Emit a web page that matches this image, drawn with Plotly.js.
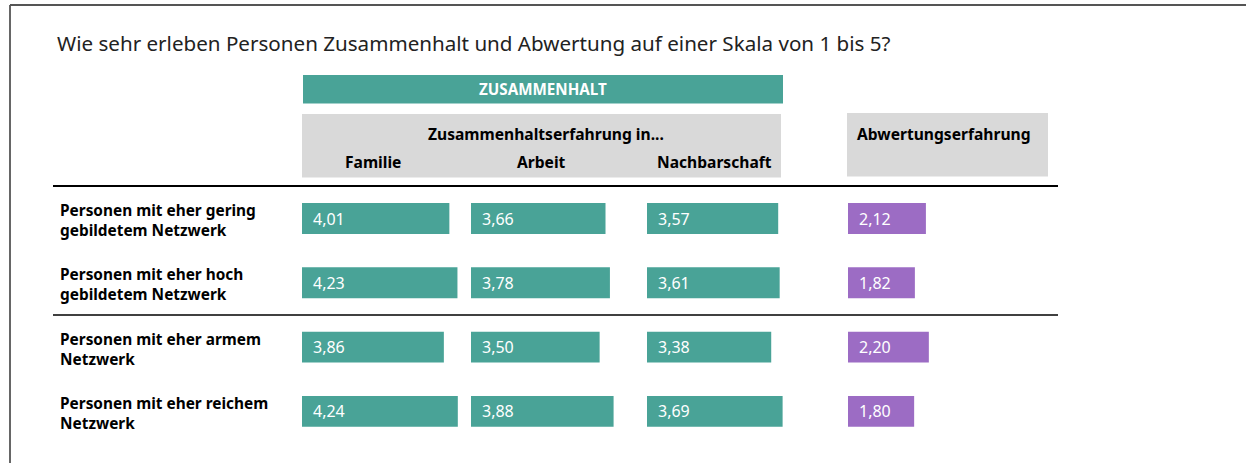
<!DOCTYPE html>
<html>
<head>
<meta charset="utf-8">
<script src="https://cdn.plot.ly/plotly-3.0.1.min.js"></script>
<style>html,body{margin:0;padding:0;background:#fff;}#chart{width:1246px;height:463px;}</style>
</head>
<body>
<div id="chart"></div>
<script>
// ---- data ----
const rowLabels = [
  'Personen mit eher gering<br>gebildetem Netzwerk',
  'Personen mit eher hoch<br>gebildetem Netzwerk',
  'Personen mit eher armem<br>Netzwerk',
  'Personen mit eher reichem<br>Netzwerk'
];
const familie = [4.01, 4.23, 3.86, 4.24];
const arbeit = [3.66, 3.78, 3.50, 3.88];
const nachbarschaft = [3.57, 3.61, 3.38, 3.69];
const abwertung = [2.12, 1.82, 2.20, 1.80];
const columnLabels = ['Familie', 'Arbeit', 'Nachbarschaft'];
const groupLabel = 'ZUSAMMENHALT';
const subGroupLabel = 'Zusammenhaltserfahrung in...';
const abwertungLabel = 'Abwertungserfahrung';
const titleText = 'Wie sehr erleben Personen Zusammenhalt und Abwertung auf einer Skala von 1 bis 5?';

// ---- layout helpers ----
const W = 1246, H = 463;
const px = x => x / W;
const py = y => 1 - y / H;
const S = 36.75; // pixels per scale unit
const GREEN = '#49a397', PURPLE = '#9c6cc4', GREY = '#d9d9d9';
const FONT = 'Noto Sans, Open Sans, sans-serif';

const cols = [
  {vals: familie, dom: [302, 470], color: GREEN, ax: 'x'},
  {vals: arbeit, dom: [471, 646], color: GREEN, ax: 'x2'},
  {vals: nachbarschaft, dom: [647, 847], color: GREEN, ax: 'x3'},
  {vals: abwertung, dom: [848, 1058], color: PURPLE, ax: 'x4'}
];
const idx = rowLabels.map((_, i) => i);

const traces = cols.map(c => ({
  type: 'bar', orientation: 'h',
  x: c.vals, y: idx,
  xaxis: c.ax, yaxis: 'y',
  width: 0.48,
  marker: {color: c.color, line: {width: 0}},
  hoverinfo: 'skip'
}));

const layout = {
  width: W, height: H,
  margin: {l: 0, r: 0, t: 0, b: 0},
  paper_bgcolor: '#fff', plot_bgcolor: 'rgba(0,0,0,0)',
  showlegend: false,
  font: {family: FONT, color: '#000'},
  yaxis: {
    domain: [py(186.35 + 64.3 * 4), py(186.35)],
    range: [3.5, -0.5], visible: false, fixedrange: true
  },
  shapes: [], annotations: []
};
cols.forEach((c, k) => {
  const name = k === 0 ? 'xaxis' : 'xaxis' + (k + 1);
  layout[name] = {
    domain: [px(c.dom[0]), px(c.dom[1])],
    range: [0, (c.dom[1] - c.dom[0]) / S],
    anchor: 'y', visible: false, fixedrange: true
  };
  c.vals.forEach((v, i) => {
    layout.annotations.push({
      xref: c.ax, yref: 'y', x: 0, y: i, xanchor: 'left', yanchor: 'middle',
      xshift: 9, yshift: 0, showarrow: false,
      text: v.toFixed(2).replace('.', ','),
      font: {family: FONT, size: 16, color: '#fff'}
    });
  });
});

// row labels
rowLabels.forEach((t, i) => {
  layout.annotations.push({
    xref: 'paper', yref: 'y', x: px(58), y: i, xanchor: 'left', yanchor: 'middle',
    yshift: -2, showarrow: false, align: 'left', text: t,
    font: {family: FONT, size: 15.4, color: '#000', weight: 'bold'}
  });
});

// frame
layout.shapes.push(
  {type: 'line', xref: 'paper', yref: 'paper', x0: px(10), x1: px(10), y0: py(5), y1: py(463), line: {color: '#666', width: 2}},
  {type: 'line', xref: 'paper', yref: 'paper', x0: px(10), x1: px(1246), y0: py(5), y1: py(5), line: {color: '#555', width: 2}}
);
// header boxes
layout.shapes.push(
  {type: 'rect', xref: 'paper', yref: 'paper', x0: px(303), x1: px(783), y0: py(103.5), y1: py(75), fillcolor: GREEN, line: {width: 0}},
  {type: 'rect', xref: 'paper', yref: 'paper', x0: px(302), x1: px(781), y0: py(177.5), y1: py(114), fillcolor: GREY, line: {width: 0}},
  {type: 'rect', xref: 'paper', yref: 'paper', x0: px(847), x1: px(1048), y0: py(176.5), y1: py(113), fillcolor: GREY, line: {width: 0}}
);
// separators
layout.shapes.push(
  {type: 'line', xref: 'paper', yref: 'paper', x0: px(53), x1: px(1058), y0: py(186), y1: py(186), line: {color: '#000', width: 2}},
  {type: 'line', xref: 'paper', yref: 'paper', x0: px(53), x1: px(1058), y0: py(315), y1: py(315), line: {color: '#000', width: 1.3}}
);

// header texts
const HF = {family: FONT, size: 15.6, color: '#000', weight: 'bold'};
const ann = (x, y, text, opts) => Object.assign({
  xref: 'paper', yref: 'paper', x: px(x), y: py(y), xanchor: 'center', yanchor: 'middle',
  showarrow: false, text: text
}, opts);
layout.annotations.push(
  ann(55, 43, titleText, {xanchor: 'left', font: {family: FONT, size: 20.6, color: '#222'}}),
  ann(543, 89, groupLabel, {font: Object.assign({}, HF, {color: '#fff', size: 15.2})}),
  ann(546, 134, subGroupLabel, {font: HF}),
  ann(373, 162, columnLabels[0], {font: HF}),
  ann(541, 162, columnLabels[1], {font: HF}),
  ann(774, 162, columnLabels[2], {xanchor: 'right', font: HF}),
  ann(944, 134, abwertungLabel, {font: HF})
);

Plotly.newPlot('chart', traces, layout, {staticPlot: true, displayModeBar: false});
</script>
</body>
</html>
